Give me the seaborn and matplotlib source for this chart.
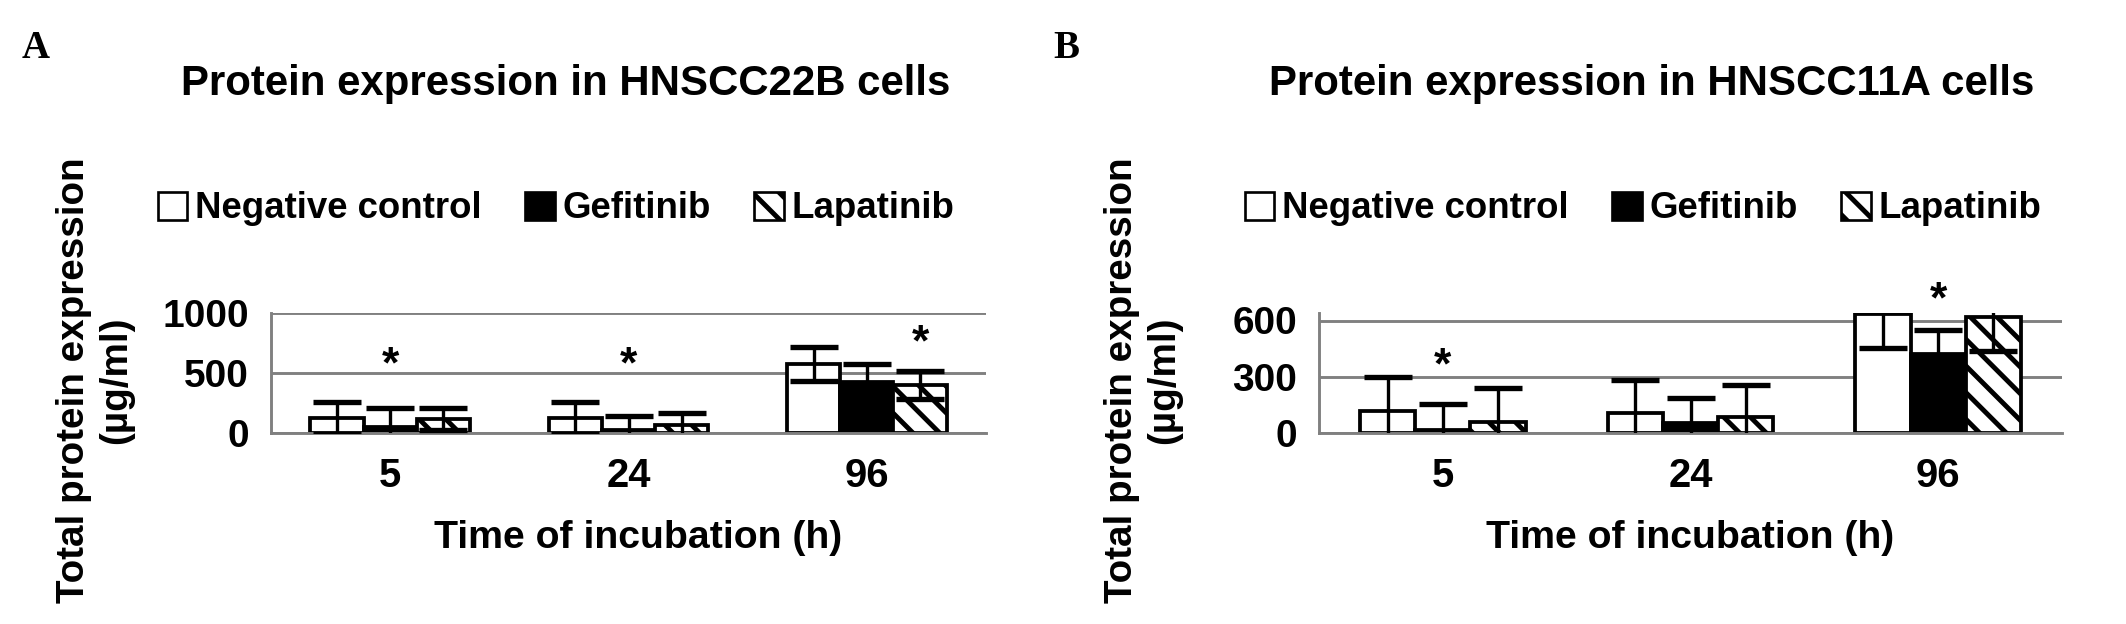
import matplotlib
matplotlib.use('Agg')
import matplotlib.pyplot as plt
import matplotlib.patches as mpatches
import seaborn as sns
import pandas as pd
import numpy as np

times = ['5', '24', '96']
treatments = ['Negative control', 'Gefitinib', 'Lapatinib']
colors = ['white', 'black', 'white']
hatches = ['', '', '\\\\']

# panel A - HNSCC22B (mean, SD in ug/ml)
a_nc = [125, 125, 575]
a_gef = [50, 22, 425]
a_lap = [115, 67, 400]
a_nc_sd = [133, 133, 145]
a_gef_sd = [158, 120, 150]
a_lap_sd = [93, 100, 117]
a_stars = [('5', 'Gefitinib', 630), ('24', 'Gefitinib', 630), ('96', 'Lapatinib', 817)]

# panel B - HNSCC11A
b_nc = [118, 105, 635]
b_gef = [15, 55, 421]
b_lap = [60, 84, 621]
b_nc_sd = [182, 179, 179]
b_gef_sd = [138, 132, 126]
b_lap_sd = [180, 174, 184]
b_stars = [('5', 'Gefitinib', 400), ('96', 'Gefitinib', 752)]

sns.set_style('white')
plt.rcParams['font.family'] = ['Liberation Sans', 'DejaVu Sans']
plt.rcParams['hatch.linewidth'] = 2.2
plt.rcParams['text.color'] = 'black'
plt.rcParams['axes.labelcolor'] = 'black'

GRAY = '#808080'
W, H, DPI = 2126, 624, 160


def make_df(nc, gef, lap, nc_sd, gef_sd, lap_sd):
    return pd.DataFrame({
        'Time': times * 3,
        'Treatment': np.repeat(treatments, 3),
        'Value': nc + gef + lap,
        'SD': nc_sd + gef_sd + lap_sd,
    })


def draw_panel(ax, df, stars, ylim, yticks, title, title_x, legend_x, ylabel_x,
               letter, letter_x, xlabel_pos=0.5):
    fig = ax.figure
    sns.barplot(data=df, x='Time', y='Value', hue='Treatment', order=times,
                hue_order=treatments, palette=colors, edgecolor='black',
                linewidth=1.7, width=0.67, errorbar=None, saturation=1,
                legend=False, ax=ax)

    # hatch + error bars, positions taken from the bars seaborn drew
    centers = {}
    for cont, trt, hatch in zip(ax.containers, treatments, hatches):
        sub = df[df['Treatment'] == trt].set_index('Time').loc[times]
        xs = []
        for bar, t in zip(cont, times):
            bar.set_hatch(hatch)
            x = bar.get_x() + bar.get_width() / 2
            xs.append(x)
            centers[(t, trt)] = x
        ax.errorbar(xs, sub['Value'].values, yerr=sub['SD'].values, fmt='none',
                    ecolor='black', elinewidth=1.5, capsize=11, capthick=2.4, zorder=3)

    fs_star = 20
    for t, trt, y in stars:
        ax.annotate('*', xy=(centers[(t, trt)], y), xytext=(0, -0.45 * fs_star),
                    textcoords='offset points', ha='center', va='baseline',
                    fontsize=fs_star, fontweight='bold', annotation_clip=False)

    ax.set_ylim(*ylim)
    ax.set_xlim(-0.5, 2.5)
    ax.set_yticks(yticks)
    ax.set_yticklabels([str(v) for v in yticks], fontsize=17.5, fontweight='bold')
    ax.set_xticks(range(3))
    ax.set_xticklabels(times, fontsize=18, fontweight='bold')
    ax.set_xticks([-0.5, 0.5, 1.5, 2.5], minor=True)
    ax.tick_params(axis='x', which='major', length=0, pad=11, labelcolor='black')
    ax.tick_params(axis='x', which='minor', length=5.5, width=1.2, color=GRAY)
    ax.tick_params(axis='y', length=5.8, width=1.2, color=GRAY, pad=4, labelcolor='black')
    ax.yaxis.grid(True, color=GRAY, linewidth=1.3)
    ax.set_axisbelow(True)
    for side in ['top', 'right']:
        ax.spines[side].set_visible(False)
    for side in ['left', 'bottom']:
        ax.spines[side].set_color(GRAY)
        ax.spines[side].set_linewidth(1.3)

    ax.set_ylabel('')
    ax.set_xlabel('Time of incubation (h)', fontsize=17.7, fontweight='bold', labelpad=11)
    ax.xaxis.label.set_x(xlabel_pos)

    handles = [mpatches.Patch(facecolor=c, edgecolor='black', linewidth=1.2, hatch=h)
               for c, h in zip(colors, hatches)]
    ax.legend(handles, treatments, loc='center', ncol=3, frameon=False,
              bbox_to_anchor=(legend_x / W, 1 - 209 / H), bbox_transform=fig.transFigure,
              prop={'weight': 'bold', 'size': 16.5}, handlelength=0.8, handleheight=0.8,
              handletextpad=0.2, columnspacing=1.2, borderpad=0, borderaxespad=0)

    fig.text(title_x / W, 1 - 95 / H, title, ha='center', va='baseline',
             fontsize=18.9, fontweight='bold')
    fig.text(ylabel_x / W, 1 - 380 / H, 'Total protein expression\n(µg/ml)',
             rotation=90, ha='center', va='center', multialignment='center',
             fontsize=17.4, fontweight='bold')
    fig.text(letter_x / W, 1 - 58 / H, letter, family=['Liberation Serif', 'DejaVu Serif'],
             fontsize=17.5, fontweight='bold', va='baseline')


fig = plt.figure(figsize=(W / DPI, H / DPI), dpi=DPI)
ax_a = fig.add_axes([271 / W, 1 - 433 / H, 715 / W, 120 / H])
ax_b = fig.add_axes([1319 / W, 1 - 433 / H, 743 / W, 120 / H])

df_a = make_df(a_nc, a_gef, a_lap, a_nc_sd, a_gef_sd, a_lap_sd)
df_b = make_df(b_nc, b_gef, b_lap, b_nc_sd, b_gef_sd, b_lap_sd)

draw_panel(ax_a, df_a, a_stars, (0, 1000), [0, 500, 1000],
           'Protein expression in HNSCC22B cells', 566, 556, 95, 'A', 22, xlabel_pos=0.513)
draw_panel(ax_b, df_b, b_stars, (0, 640), [0, 300, 600],
           'Protein expression in HNSCC11A cells', 1652, 1643, 1143, 'B', 1053)

fig.savefig('out.png', dpi=DPI)
